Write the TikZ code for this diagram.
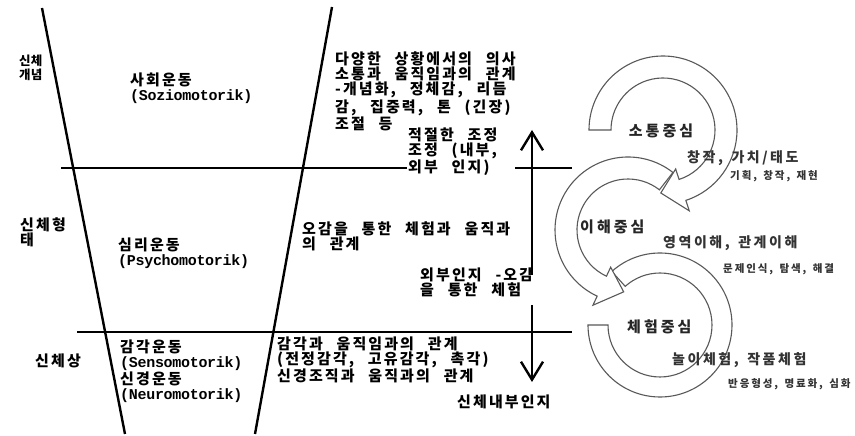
\documentclass[tikz,border=0pt]{standalone}
\usepackage{fontspec}
\usetikzlibrary{arrows.meta,calc}
\newfontfamily\krfont{Noto Sans CJK KR}[LetterSpace=14,WordSpace=2.5]
\newfontfamily\krlab{Noto Sans CJK KR}[LetterSpace=2]
\newfontfamily\krhead{Noto Sans CJK KR}[LetterSpace=20]
\newfontfamily\krsub{Noto Sans CJK KR}[LetterSpace=18,WordSpace=1.5]
\newfontfamily\monolat{Liberation Mono}[LetterSpace=-2]
\tikzset{
  rule/.style={line width=2.4pt, black},
  vtip/.style={-{Straight Barb[length=18pt,width=22pt]}, line width=2.4pt},
  ring/.style={draw=black!65, line width=1.1pt, fill=white},
  kr/.style={inner sep=0pt, anchor=north west, align=left, text=black,
    font=\krfont\bfseries\fontsize{15pt}{15pt}\selectfont},
  krlabel/.style={inner sep=0pt, anchor=north west, align=left, text=black,
    font=\krlab\bfseries\fontsize{12.5pt}{13.5pt}\selectfont},
  centre/.style={inner sep=0pt, text=black!85,
    font=\krhead\bfseries\fontsize{15pt}{17pt}\selectfont},
  sub/.style={inner sep=0pt, anchor=north west, text=black!80,
    font=\krsub\bfseries\fontsize{14pt}{16pt}\selectfont},
  small/.style={inner sep=0pt, anchor=north west, text=black!80,
    font=\krsub\bfseries\fontsize{10.5pt}{12pt}\selectfont},
}
\begin{document}
\begin{tikzpicture}[x=1pt,y=1pt]
\useasboundingbox (0,0) rectangle (855,436);
\fill[white] (0,0) rectangle (855,436);

% trapezoid and level lines
\draw[rule] (42,428) -- (125,2);
\draw[rule] (332,429) -- (255,2);
\draw[rule] (61,268) -- (407,268);
\draw[rule] (515,268) -- (572,268);
\draw[rule] (77,104) -- (572,104);

% vertical arrows
\coordinate (upA) at (532,161);
\coordinate (upB) at (532,306);
\coordinate (dnA) at (532,131);
\coordinate (dnB) at (532,54);
\draw[vtip] (upA) -- (upB);
\draw[vtip] (dnA) -- (dnB);

% circular arrows
\coordinate (c1) at (663,306);
\coordinate (c2) at (628,206);
\coordinate (c3) at (660,111);
\draw[ring] ($(c3)+(132:72)$) arc[start angle=132,end angle=-180,radius=72]
  -- ($(c3)+(-180:52)$) arc[start angle=-180,end angle=132,radius=52] -- cycle;
\draw[ring] ($(c2)+(52:73)$) arc[start angle=52,end angle=245,radius=73]
  -- ($(c2)+(245:83)$) -- ($(c2)+(266:62)$) -- ($(c2)+(245:41)$)
  -- ($(c2)+(245:51)$) arc[start angle=245,end angle=52,radius=51] -- cycle;
\draw[ring] ($(c1)+(180:74)$) arc[start angle=180,end angle=-72,radius=74]
  -- ($(c1)+(-72:85)$) -- ($(c1)+(-92:63)$) -- ($(c1)+(-72:41)$)
  -- ($(c1)+(-72:52)$) arc[start angle=-72,end angle=180,radius=52] -- cycle;

% left labels
\node[krlabel] (l1) at (19,381) {신체\\개념};
\node[kr] (l2) at (20,218) {신체형\\태};
\node[kr] (l3) at (35,82) {신체상};

% inside trapezoid
\node[kr] (m1) at (130,363) {사회운동\\{\monolat\bfseries (Soziomotorik)}};
\node[kr] (m2) at (118,198) {심리운동\\{\monolat\bfseries (Psychomotorik)}};
\node[kr] (m3) at (120,96) {감각운동\\{\monolat\bfseries (Sensomotorik)}\\신경운동\\{\monolat\bfseries (Neuromotorik)}};

% middle column
\node[kr] (d1) at (335,384) {다양한 상황에서의 의사\\소통과 움직임과의 관계\\-개념화, 정체감, 리듬\\감, 집중력, 톤 (긴장)\\조절 등};
\node[kr] (d2) at (408,308) {적절한 조정\\조정 (내부,\\외부 인지)};
\node[kr] (d3) at (302,214) {오감을 통한 체험과 움직과\\의 관계};
\node[kr] (d4) at (420,168) {외부인지 -오감\\을 통한 체험};
\node[kr] (d5) at (277,99) {감각과 움직임과의 관계\\(전정감각, 고유감각, 촉각)\\신경조직과 움직과의 관계};
\node[kr] (d6) at (457,41) {신체내부인지};

% right side
\node[centre] (r1) at (661,305) {소통중심};
\node[sub] (r2) at (687,286) {창작, 가치/태도};
\node[small] (r3) at (730,266) {기획, 창작, 재현};
\node[centre, anchor=north west] (r4) at (580,216) {이해중심};
\node[sub] (r5) at (663,201) {영역이해, 관계이해};
\node[small] (r6) at (723,173) {문제인식, 탐색, 해결};
\node[centre, anchor=north west] (r7) at (627,116) {체험중심};
\node[sub] (r8) at (672,84) {놀이체험, 작품체험};
\node[small] (r9) at (728,58) {반응형성, 명료화, 심화};
\end{tikzpicture}
\end{document}
